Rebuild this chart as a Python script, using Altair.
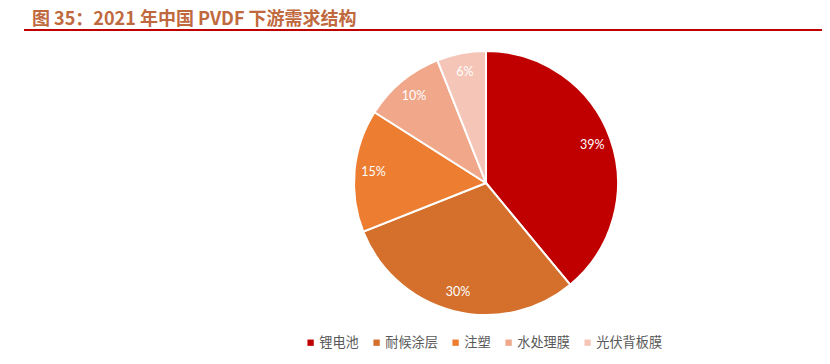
import altair as alt
import pandas as pd

categories = ["锂电池", "耐候涂层", "注塑", "水处理膜", "光伏背板膜"]
values = [39, 30, 15, 10, 6]
colors = ["#C00000", "#D4702B", "#ED7D31", "#F0A78A", "#F5C6B8"]
title_text = "图 35：2021 年中国 PVDF 下游需求结构"

df = pd.DataFrame({
    "cat": categories,
    "val": values,
    "order": list(range(len(categories))),
    "label": [f"{v}%" for v in values],
})

W, H = 814, 348
cx, cy, R = 478, 175, 132

color_scale = alt.Scale(domain=categories, range=colors)

base = alt.Chart(df).encode(
    theta=alt.Theta("val:Q", stack=True),
    order=alt.Order("order:Q"),
)

pie = base.mark_arc(outerRadius=R, stroke="white", strokeWidth=2).encode(
    x=alt.value(cx), y=alt.value(cy),
    color=alt.Color(
        "cat:N", scale=color_scale, sort=categories,
        legend=alt.Legend(
            title=None, orient="none", direction="horizontal",
            legendX=296, legendY=328, symbolType="square", symbolSize=40,
            labelFont="Noto Sans CJK SC", labelFontSize=13.2, labelColor="#595959",
            columnPadding=11, symbolStrokeWidth=0, labelOffset=2,
        ),
    ),
)

labels = base.mark_text(radius=113, font="Lato", fontSize=12.5, color="white").encode(
    x=alt.value(cx), y=alt.value(cy),
    text="label:N",
)

title = alt.Chart(pd.DataFrame({"t": [title_text]})).mark_text(
    align="left", baseline="alphabetic", font="Noto Sans CJK SC", fontSize=18,
    fontWeight="bold", color="#C0683E",
).encode(x=alt.value(24), y=alt.value(17), text="t:N")

rule = alt.Chart(pd.DataFrame({"a": [0]})).mark_rule(color="#C00000", strokeWidth=2).encode(
    x=alt.value(16), x2=alt.value(W), y=alt.value(22)
)

chart = alt.layer(pie, labels, title, rule).properties(
    width=W, height=H, padding=0,
    autosize=alt.AutoSizeParams(type="fit", contains="padding"),
).configure(background="white", view=alt.ViewConfig(stroke=None))

chart.save("out.html", embed_options={"renderer": "svg", "actions": False})
